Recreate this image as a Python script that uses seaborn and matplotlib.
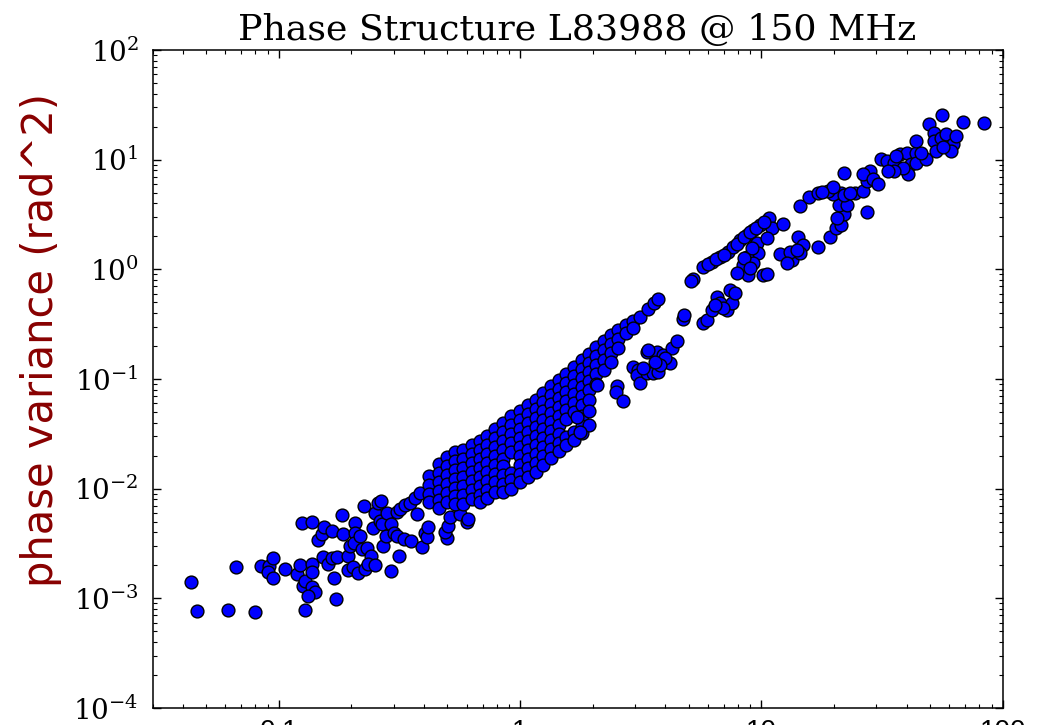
import numpy as np
import pandas as pd
import matplotlib
matplotlib.use("Agg")
import matplotlib.pyplot as plt
from matplotlib.ticker import LogLocator, LogFormatterMathtext, NullFormatter, FixedLocator, FixedFormatter
import seaborn as sns

# Sparse short-baseline measurements (separation in km, variance in rad^2)
sparse_sep = [0.0431, 0.0457, 0.0614, 0.0663, 0.0795, 0.0842, 0.0910, 0.0900, 0.0944, 0.0944,
              0.106, 0.119, 0.123, 0.125, 0.137, 0.126, 0.129, 0.138, 0.141, 0.132,
              0.128, 0.137, 0.138, 0.145, 0.151, 0.154, 0.166, 0.152, 0.160, 0.166,
              0.174, 0.169, 0.172, 0.183, 0.184, 0.193, 0.197, 0.207, 0.207, 0.205,
              0.193, 0.203, 0.213, 0.217, 0.221, 0.225, 0.227, 0.232, 0.241, 0.234,
              0.250, 0.245, 0.250, 0.257, 0.265, 0.262, 0.268, 0.270, 0.278, 0.281,
              0.292, 0.292, 0.300, 0.309, 0.315, 0.330, 0.353, 0.392, 0.309, 0.318,
              0.333, 0.350, 0.367, 0.374, 0.385, 0.404, 0.411, 0.415, 0.498, 0.489,
              0.503, 0.513, 0.564, 0.603, 0.609]
sparse_var = [0.00140, 0.00076, 0.00079, 0.00191, 0.00075, 0.00195, 0.00195, 0.00172, 0.00152, 0.00231,
              0.00184, 0.00165, 0.00200, 0.00491, 0.00501, 0.00129, 0.00143, 0.00126, 0.00113, 0.00104,
              0.00078, 0.00204, 0.00172, 0.00337, 0.00382, 0.00451, 0.00415, 0.00236, 0.00204, 0.00231,
              0.00236, 0.00152, 0.00098, 0.00569, 0.00382, 0.00241, 0.00297, 0.00491, 0.00398, 0.00316,
              0.00180, 0.00191, 0.00169, 0.00366, 0.00279, 0.00700, 0.00184, 0.00285, 0.00241, 0.00204,
              0.00200, 0.00433, 0.00605, 0.00746, 0.00778, 0.00512, 0.00471, 0.00297, 0.00366, 0.00605,
              0.00471, 0.00176, 0.00398, 0.00366, 0.00241, 0.00344, 0.00330, 0.00291, 0.00618, 0.00658,
              0.00716, 0.00746, 0.00828, 0.00581, 0.00920, 0.00398, 0.00359, 0.00451, 0.00351, 0.00406,
              0.00461, 0.00556, 0.00581, 0.00501, 0.00523]

# Core of the structure function: baselines grouped by separation
band_sep = [0.42, 0.46, 0.50, 0.54, 0.58, 0.63, 0.68, 0.73, 0.79, 0.85,
            0.92, 1.00, 1.08, 1.16, 1.25, 1.35, 1.45, 1.55, 1.67, 1.80,
            1.93, 2.07, 2.22, 2.38, 2.55, 2.75, 2.95, 3.15, 3.40, 3.60]
band_var = [
    [0.0131, 0.0109, 0.0090, 0.0075],
    [0.0169, 0.0140, 0.0116, 0.0096, 0.0079, 0.0067],
    [0.0195, 0.0162, 0.0134, 0.0111, 0.0092, 0.0076],
    [0.0217, 0.0180, 0.0149, 0.0123, 0.0102, 0.0085, 0.0072],
    [0.0226, 0.0187, 0.0155, 0.0128, 0.0106, 0.0088, 0.0073],
    [0.0251, 0.0208, 0.0172, 0.0143, 0.0118, 0.0098, 0.0081],
    [0.0273, 0.0226, 0.0187, 0.0155, 0.0128, 0.0106, 0.0088, 0.0075],
    [0.0303, 0.0251, 0.0208, 0.0172, 0.0143, 0.0118, 0.0098, 0.0083],
    [0.0351, 0.0291, 0.0241, 0.0200, 0.0165, 0.0137, 0.0114, 0.0094],
    [0.0398, 0.0330, 0.0273, 0.0226, 0.0187, 0.0160, 0.0134, 0.0111, 0.0093],
    [0.0461, 0.0382, 0.0316, 0.0262, 0.0217, 0.0140, 0.0121, 0.0100],
    [0.0512, 0.0424, 0.0351, 0.0291, 0.0241, 0.0200, 0.0165, 0.0137, 0.0114],
    [0.0581, 0.0481, 0.0398, 0.0330, 0.0273, 0.0226, 0.0187, 0.0155, 0.0128],
    [0.0644, 0.0533, 0.0442, 0.0366, 0.0303, 0.0251, 0.0208, 0.0172, 0.0143],
    [0.0746, 0.0618, 0.0512, 0.0424, 0.0351, 0.0291, 0.0241, 0.0200, 0.0165],
    [0.0864, 0.0716, 0.0593, 0.0491, 0.0406, 0.0337, 0.0279, 0.0231, 0.0191],
    [0.0979, 0.0811, 0.0671, 0.0557, 0.0461, 0.0382, 0.0316, 0.0262, 0.0222],
    [0.111, 0.0920, 0.0762, 0.0631, 0.0522, 0.0433, 0.0297, 0.0251],
    [0.1285, 0.1065, 0.0882, 0.0731, 0.0605, 0.0501, 0.0330, 0.0279],
    [0.1489, 0.1233, 0.1021, 0.0845, 0.0701, 0.0581, 0.0461, 0.0374, 0.0323],
    [0.1688, 0.1398, 0.1158, 0.0959, 0.0794, 0.0644, 0.0512, 0.0382],
    [0.195, 0.162, 0.134, 0.111, 0.0901],
    [0.2215, 0.1835, 0.1489, 0.1208],
    [0.251, 0.208, 0.172, 0.143],
    [0.279, 0.231, 0.191],
    [0.310, 0.262],
    [0.337, 0.291],
    [0.366],
    [0.433],
    [0.491],
]

# Long-baseline measurements
long_sep = [1.724, 1.774, 2.087, 2.526, 2.50, 2.675,
            3.365, 3.70, 3.92, 4.27, 4.48, 4.19, 2.94, 3.09, 3.06, 3.15, 3.365, 3.56, 3.74, 3.24, 3.40, 4.00, 3.81, 3.63,
            3.74, 4.75, 4.79, 5.22, 5.12,
            5.75, 5.97, 6.26, 6.57, 6.76, 7.23, 7.58, 7.43, 7.80, 6.96, 6.44,
            5.75, 6.26, 6.76, 7.30, 7.65, 8.18, 8.75, 9.26, 9.91, 10.8, 11.1, 12.3,
            6.03, 6.51, 7.02, 7.95, 8.50, 9.00, 9.53, 10.3,
            9.63, 9.72, 8.75, 8.42, 9.26, 8.83, 7.95, 10.2, 10.6, 10.6, 9.18, 8.50, 9.00,
            12.0, 13.4, 13.2, 14.2, 14.9, 14.5, 12.8, 17.1, 14.0,
            19.3, 20.3, 21.3, 21.9, 20.9, 22.7, 21.3, 19.9, 20.5,
            14.5, 15.7, 17.1, 18.8, 19.9, 21.9, 24.5, 26.5, 27.5, 28.3, 26.5, 28.9, 30.3, 27.3, 21.9, 17.9, 23.2,
            31.2, 33.3, 35.3, 37.7, 40.3, 41.5, 43.6, 43.6, 40.7, 38.5, 35.3, 33.6, 43.6, 47.9,
            49.3, 51.7, 51.7, 52.7, 55.3, 58.0, 62.0, 63.8, 60.8, 56.4, 55.8, 68.2, 83.4, 45.7, 36.0]
long_var = [0.0452, 0.0330, 0.0882, 0.0864, 0.0762, 0.0631,
            0.176, 0.176, 0.165, 0.191, 0.2215, 0.1398, 0.1285, 0.1208, 0.109, 0.092, 0.1133, 0.1133, 0.1158, 0.126, 0.1835, 0.155, 0.134, 0.143,
            0.533, 0.351, 0.382, 0.811, 0.778,
            0.323, 0.344, 0.424, 0.556, 0.491, 0.424, 0.491, 0.644, 0.605, 0.442, 0.471,
            1.04, 1.158, 1.285, 1.427, 1.585, 1.835, 2.04, 2.26, 2.51, 2.91, 2.36, 2.57,
            1.11, 1.233, 1.34, 1.688, 1.954, 2.17, 2.36, 2.68,
            1.72, 1.398, 1.285, 1.087, 1.134, 0.882, 0.920, 0.882, 0.90, 1.914, 1.552, 1.259, 1.02,
            1.369, 1.207, 1.427, 1.954, 1.652, 1.398, 1.134, 1.585, 1.488,
            1.954, 2.36, 2.51, 3.16, 3.82, 3.82, 4.91, 4.81, 2.91,
            3.74, 4.61, 4.91, 5.22, 5.57, 4.71, 5.01, 5.22, 6.44, 7.94, 7.46, 6.72, 6.05, 3.30, 7.62, 5.12, 4.91,
            10.2, 9.79, 9.40, 11.3, 11.6, 9.20, 11.6, 14.9, 7.46, 8.45, 7.94, 7.94, 9.40, 10.2,
            21.2, 17.6, 14.9, 12.1, 15.8, 17.2, 14.0, 16.5, 12.1, 12.9, 25.6, 22.2, 21.7, 11.6, 10.7]

sep = list(sparse_sep)
var = list(sparse_var)
for s, column in zip(band_sep, band_var):
    sep.extend([s] * len(column))
    var.extend(column)
sep.extend(long_sep)
var.extend(long_var)
df = pd.DataFrame({"separation": sep, "variance": var})

sns.set_style("ticks")
plt.rcParams["font.family"] = ["DejaVu Serif", "DejaVu Sans"]
plt.rcParams["mathtext.fontset"] = "dejavuserif"
for key in ("text.color", "axes.labelcolor", "xtick.color", "ytick.color", "axes.edgecolor"):
    plt.rcParams[key] = "black"

fig = plt.figure(figsize=(10.37, 7.25), dpi=100)
ax = fig.add_axes([0.1471, 0.0235, 0.8198, 0.9076])

sns.scatterplot(data=df, x="separation", y="variance", color="#0000ff",
                edgecolor="black", linewidth=1.0, s=85, legend=False, ax=ax, zorder=3)

ax.set_xscale("log")
ax.set_yscale("log")
ax.set_xlim(0.03, 100)
ax.set_ylim(1e-4, 1e2)

ax.xaxis.set_major_locator(FixedLocator([0.1, 1, 10, 100]))
ax.xaxis.set_major_formatter(FixedFormatter(["0.1", "1", "10", "100"]))
ax.xaxis.set_minor_locator(LogLocator(base=10, subs=np.arange(2, 10), numticks=20))
ax.xaxis.set_minor_formatter(NullFormatter())
ax.yaxis.set_major_locator(LogLocator(base=10, numticks=20))
ax.yaxis.set_major_formatter(LogFormatterMathtext())
ax.yaxis.set_minor_locator(LogLocator(base=10, subs=np.arange(2, 10), numticks=20))
ax.yaxis.set_minor_formatter(NullFormatter())

ax.tick_params(which="both", direction="in", top=True, right=True, color="black")
ax.tick_params(which="major", length=5.5, width=1.0)
ax.tick_params(which="minor", length=3, width=0.8)
ax.tick_params(axis="y", which="major", labelsize=20, pad=10, labelfontfamily="DejaVu Serif")
ax.tick_params(axis="x", which="major", labelsize=20, pad=8, labelfontfamily="Liberation Sans")

for sp in ax.spines.values():
    sp.set_linewidth(1.1)
    sp.set_color("black")

ax.set_xlabel("")
ax.set_ylabel("phase variance (rad^2)", fontsize=30, color="#880000", family="DejaVu Sans")
ax.yaxis.set_label_coords(-0.107, 0.559)
ax.set_title("Phase Structure L83988 @ 150 MHz", fontsize=26.2, family="DejaVu Serif", pad=7)

fig.savefig("out.png", dpi=100)
